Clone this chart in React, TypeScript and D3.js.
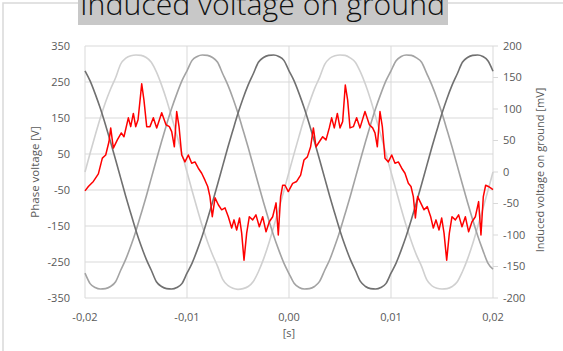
import React from "react";
import * as d3 from "d3";

// time in ms for the phase voltages (one sample every 0.5 ms from -20 to 20)
const phaseStepMs = 0.5;
const phaseStartMs = -20;

// phase voltages [V]
const phaseA = [
  0, 52, 102, 150, 193, 230, 262, 300, 316, 323, 325, 324, 318, 305, 278, 242, 200, 152, 103, 52,
  0, -52, -102, -150, -193, -230, -262, -298, -315, -323, -326, -324, -318, -304, -277, -242, -200, -152, -103, -52,
  0, 51, 101, 149, 192, 231, 263, 299, 316, 323, 325, 324, 317, 305, 278, 243, 201, 153, 103, 52,
  0, -51, -102, -150, -193, -231, -262, -299, -316, -323, -325, -324, -318, -305, -277, -242, -200, -152, -103, -52,
  0,
];
const phaseB = [
  -281, -310, -321, -325, -324, -318, -305, -273, -242, -205, -163, -116, -68, -17, 34, 84, 132, 177, 217, 253,
  281, 310, 321, 325, 324, 318, 305, 273, 242, 205, 163, 116, 68, 17, -34, -84, -132, -177, -217, -253,
  -282, -309, -321, -325, -324, -318, -304, -273, -243, -205, -163, -116, -68, -17, 34, 84, 132, 177, 217, 253,
  281, 309, 321, 325, 324, 317, 305, 274, 242, 205, 163, 116, 68, 17, -34, -84, -132, -177, -217, -253,
  -270,
];
const phaseC = [
  281, 253, 217, 177, 132, 84, 34, -17, -68, -116, -163, -205, -242, -273, -305, -318, -324, -325, -321, -310,
  -281, -253, -217, -177, -132, -84, -34, 17, 68, 116, 163, 205, 242, 273, 305, 318, 324, 325, 321, 310,
  281, 253, 217, 177, 132, 84, 34, -17, -68, -116, -163, -205, -242, -273, -304, -318, -324, -325, -321, -310,
  -281, -253, -217, -177, -132, -84, -34, 17, 68, 116, 163, 205, 242, 273, 305, 318, 324, 325, 321, 309,
  280,
];

// induced voltage on ground: time [ms] and value [mV]
const redT = [
  -20.0, -19.67, -19.18, -18.69, -18.3, -17.97, -17.65, -17.48, -17.22, -16.83, -16.44, -16.18, -15.75, -15.52,
  -15.26, -15.03, -14.8, -14.44, -14.22, -13.95, -13.63, -13.3, -12.97, -12.48, -12.06, -11.73, -11.5, -11.24,
  -11.01, -10.78, -10.52, -10.2, -9.87, -9.54, -9.22, -8.89, -8.56, -8.24, -7.97, -7.75, -7.52, -7.25, -6.93,
  -6.6, -6.27, -5.95, -5.62, -5.39, -5.13, -4.85, -4.64, -4.41, -4.15, -3.89, -3.56, -3.24, -2.91, -2.58, -2.25,
  -1.93, -1.6, -1.27, -1.05, -0.82, -0.62, -0.39, -0.07,
  0.36, 0.75, 1.14, 1.47, 1.8, 2.12, 2.39, 2.65, 2.97, 3.3, 3.63, 3.95, 4.18, 4.44, 4.74, 5.0, 5.26, 5.52, 5.75,
  5.98, 6.31, 6.63, 6.96, 7.45, 7.88, 8.2, 8.43, 8.66, 8.92, 9.15, 9.41, 9.74, 10.07, 10.39, 10.72, 11.05, 11.37,
  11.7, 11.96, 12.19, 12.39, 12.61, 12.91, 13.24, 13.56, 13.89, 14.15, 14.41, 14.71, 14.97, 15.2, 15.46, 15.72,
  15.98, 16.31, 16.63, 16.96, 17.29, 17.61, 17.94, 18.27, 18.59, 18.82, 19.05, 19.28, 19.54, 19.83, 20.0,
];
const redMv = [
  -30, -23, -15, -3, 22, 27, 48, 70, 38, 51, 62, 56, 86, 72,
  93, 72, 83, 140, 114, 72, 72, 86, 70, 94, 75, 72, 64, 40,
  96, 72, 27, 16, 27, 14, 16, 6, -2, -13, -23, -39, -71, -41, -52,
  -60, -57, -71, -89, -76, -92, -73, -97, -140, -97, -71, -76, -68, -87, -71, -95,
  -79, -71, -49, -100, -39, -21, -21, -31,
  -18, -15, -5, 19, 24, 40, 70, 40, 48, 56, 51, 70, 86, 70, 93, 70, 80, 138, 114,
  70, 72, 86, 70, 96, 75, 70, 62, 40, 96, 72, 22, 16, 27, 14, 16, 6, -2,
  -18, -23, -39, -73, -39, -49, -60, -55, -71, -89, -76, -92, -73, -97, -140, -97,
  -71, -76, -68, -87, -71, -95, -79, -71, -47, -100, -39, -21, -23, -26, -28,
];

const leftTicks = [350, 250, 150, 50, -50, -150, -250, -350];
const rightTicks = [200, 150, 100, 50, 0, -50, -100, -150, -200];
const xTicks = [-0.02, -0.01, 0, 0.01, 0.02];

const W = 563;
const H = 351;
const plot = { left: 85, right: 493, top: 46, bottom: 298 };
const font = "'Open Sans', sans-serif";
const labelColor = "#595959";
const gridColor = "#d9d9d9";

export default function App() {
  const x = d3.scaleLinear().domain([-0.02, 0.02]).range([plot.left, plot.right]);
  const yL = d3.scaleLinear().domain([-350, 350]).range([plot.bottom, plot.top]);
  const yR = d3.scaleLinear().domain([-200, 200]).range([plot.bottom, plot.top]);

  const phaseLine = d3
    .line<number>()
    .x((_, i) => x((phaseStartMs + i * phaseStepMs) / 1000))
    .y((d) => yL(d))
    .curve(d3.curveMonotoneX);

  const redLine = d3
    .line<number>()
    .x((_, i) => x(redT[i] / 1000))
    .y((d) => yR(d));

  const fmt = (v: number) => d3.format(".2f")(v).replace(".", ",").replace("−", "-");

  return (
    <svg
      width={W}
      height={H}
      style={{ position: "absolute", left: 0, top: 0, background: "#fff" }}
      fontFamily={font}
    >
      <rect x={3} y={3} width={W + 10} height={H + 10} fill="#fff" stroke="#d9d9d9" strokeWidth={1.5} />

      {/* title */}
      <rect x={78} y={0} width={370} height={25} fill="#c8c8c8" />
      <text
        x={80}
        y={15}
        fontSize={29}
        fontWeight={300}
        fill="#111"
        textLength={365}
        lengthAdjust="spacingAndGlyphs"
      >
        Induced voltage on ground
      </text>

      {/* grid */}
      {leftTicks.map((t) => (
        <line key={"h" + t} x1={plot.left} x2={plot.right} y1={yL(t)} y2={yL(t)} stroke={gridColor} />
      ))}
      {xTicks.map((t) => (
        <line key={"v" + t} x1={x(t)} x2={x(t)} y1={plot.top} y2={plot.bottom} stroke={gridColor} />
      ))}

      {/* right axis ticks */}
      {rightTicks.map((t) => (
        <line key={"rt" + t} x1={plot.right} x2={plot.right + 5} y1={yR(t)} y2={yR(t)} stroke={gridColor} />
      ))}

      {/* phase voltages */}
      <path d={phaseLine(phaseA) || ""} fill="none" stroke="#d0d0d0" strokeWidth={1.6} />
      <path d={phaseLine(phaseB) || ""} fill="none" stroke="#a3a3a3" strokeWidth={1.6} />
      <path d={phaseLine(phaseC) || ""} fill="none" stroke="#707070" strokeWidth={1.6} />

      {/* induced voltage */}
      <path d={redLine(redMv) || ""} fill="none" stroke="#ff0000" strokeWidth={1.5} strokeLinejoin="round" />

      {/* left tick labels */}
      {leftTicks.map((t) => (
        <text key={"lt" + t} x={70} y={yL(t)} dy="0.35em" textAnchor="end" fontSize={11} fill={labelColor}>
          {t}
        </text>
      ))}
      {/* right tick labels */}
      {rightTicks.map((t) => (
        <text key={"rl" + t} x={503} y={yR(t)} dy="0.35em" textAnchor="start" fontSize={11} fill={labelColor}>
          {t}
        </text>
      ))}
      {/* x tick labels */}
      {xTicks.map((t) => (
        <text key={"xl" + t} x={x(t)} y={317} dy="0.35em" textAnchor="middle" fontSize={11} fill={labelColor}>
          {fmt(t)}
        </text>
      ))}
      <text x={x(0)} y={333} dy="0.35em" textAnchor="middle" fontSize={11} fill={labelColor}>
        [s]
      </text>

      {/* axis titles */}
      <text
        transform={`translate(35,${(plot.top + plot.bottom) / 2}) rotate(-90)`}
        dy="0.35em"
        textAnchor="middle"
        fontSize={11.5}
        fill={labelColor}
      >
        Phase voltage [V]
      </text>
      <text
        transform={`translate(540,${(plot.top + plot.bottom) / 2 - 2}) rotate(-90)`}
        dy="0.35em"
        textAnchor="middle"
        fontSize={11}
        fill={labelColor}
      >
        Induced voltage on ground [mV]
      </text>
    </svg>
  );
}
